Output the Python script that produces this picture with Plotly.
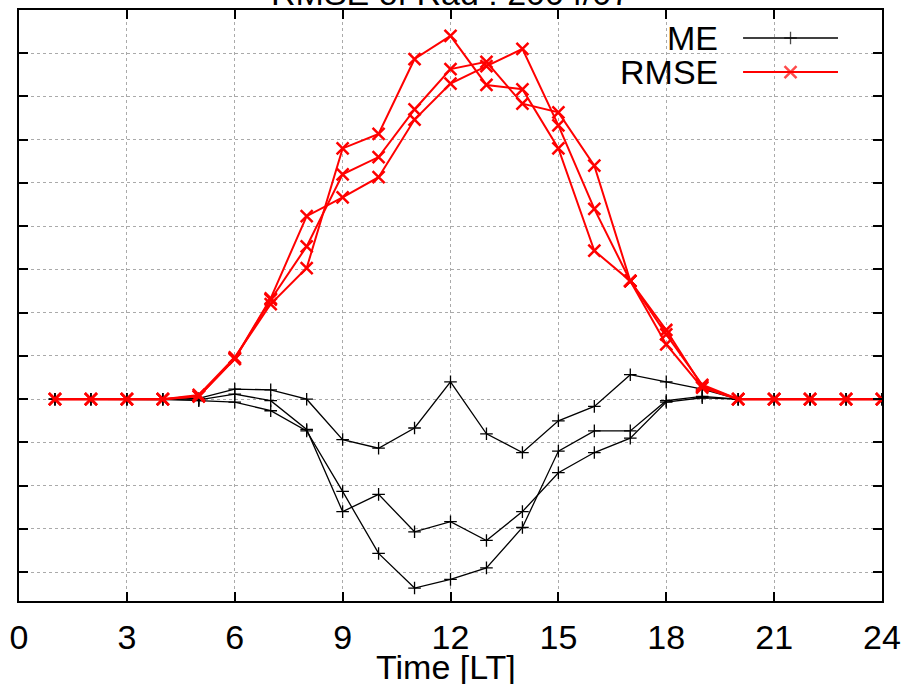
import plotly.graph_objects as go

hours = list(range(1, 25))

rmse_a = [0, 0, 0, 0, 2, 28, 70, 127, 140, 154, 194, 219, 231, 243, 190, 132, 82, 45, 10, 0, 0, 0, 0, 0]
rmse_b = [0, 0, 0, 0, 2, 28, 69, 106, 156, 168, 201, 229, 234, 205, 199, 162, 82, 48, 9, 0, 0, 0, 0, 0]
rmse_c = [0, 0, 0, 0, 3, 29, 66, 91, 174, 184, 236, 252, 218, 215, 174, 103, 82, 38, 8, 0, 0, 0, 0, 0]

me_a = [0, 0, 0, 0, 0.5, 7, 6.5, 0, -28, -34, -20, 12, -24, -37, -15, -5, 17, 12, 7, 0, 0, 0, 0, 0]
me_b = [0, 0, 0, 0, -0.5, 3.5, -1, -21, -78, -66, -92, -85, -98, -78, -51, -37, -27, -2, 1, 0, 0, 0, 0, 0]
me_c = [0, 0, 0, 0, -1, -2, -8, -22, -64, -107, -131, -125, -117, -89, -36, -22, -22, -1, 2, 0, 0, 0, 0, 0]

x_ticks = [0, 3, 6, 9, 12, 15, 18, 21, 24]

FONT = "Liberation Sans, Arial, sans-serif"
RED = "#ff0000"
BLACK = "#000000"

fig = go.Figure()

for me in [me_a, me_b, me_c]:
    fig.add_trace(go.Scatter(
        x=hours, y=me, mode="lines+markers",
        line=dict(color=BLACK, width=1.3),
        marker=dict(symbol="cross-thin", size=9, line=dict(color=BLACK, width=1.3)),
        showlegend=False,
    ))

for rmse in [rmse_a, rmse_b, rmse_c]:
    fig.add_trace(go.Scatter(
        x=hours, y=rmse, mode="lines+markers",
        line=dict(color=RED, width=2),
        marker=dict(symbol="x-thin", size=12, line=dict(color=RED, width=2.5)),
        showlegend=False,
    ))

# key samples (gnuplot style: text left, sample right)
key_rows = [("ME", 0.9526, BLACK, "cross-thin", 1.3, 9),
            ("RMSE", 0.895, RED, "x-thin", 2.5, 12)]
for name, ky, col, sym, lw, ms in key_rows:
    fig.add_trace(go.Scatter(
        x=[0.839, 0.894, 0.949], y=[ky, ky, ky], mode="lines+markers",
        xaxis="x2", yaxis="y2",
        line=dict(color=col, width=1.3 if col == BLACK else 2),
        marker=dict(symbol=sym, size=[0, ms, 0], line=dict(color=col, width=lw)),
        showlegend=False, hoverinfo="skip",
    ))
    fig.add_annotation(x=0.8123, y=ky, xref="paper", yref="paper",
                       text=name, showarrow=False, xanchor="right", yanchor="middle",
                       font=dict(family=FONT, size=34, color=BLACK))

fig.add_shape(type="rect", xref="paper", yref="paper",
              x0=0.714, x1=0.972, y0=0.861, y1=0.995,
              fillcolor="white", line=dict(width=0), layer="between")

# title sits mostly above the visible area, as in the cropped original
fig.add_annotation(x=0.5, y=0.994, xref="paper", yref="paper",
                   text="RMSE of Rad : 2004/07", showarrow=False,
                   xanchor="center", yanchor="bottom",
                   font=dict(family=FONT, size=34, color=BLACK))

fig.add_annotation(x=0.495, y=-0.112, xref="paper", yref="paper",
                   text="Time [LT]", showarrow=False,
                   xanchor="center", yanchor="middle",
                   font=dict(family=FONT, size=34, color=BLACK))

fig.update_layout(
    width=908, height=684,
    margin=dict(l=19, r=26, t=10, b=83, autoexpand=False),
    paper_bgcolor="white", plot_bgcolor="white",
    font=dict(family=FONT, size=34, color=BLACK),
    xaxis=dict(
        range=[0, 24], tickvals=x_ticks, ticktext=[str(t) for t in x_ticks],
        ticks="inside", ticklen=9, tickwidth=1.5, tickcolor=BLACK,
        ticklabelstandoff=5,
        showline=True, linecolor=BLACK, linewidth=2, mirror="ticks",
        showgrid=True, gridcolor="#aaaaaa", griddash="dot", gridwidth=1,
        zeroline=False,
    ),
    yaxis=dict(
        range=[-140, 270], tick0=0, dtick=30,
        ticks="inside", ticklen=9, tickwidth=1.5, tickcolor=BLACK,
        showline=True, linecolor=BLACK, linewidth=2, mirror="ticks",
        showgrid=True, gridcolor="#aaaaaa", griddash="dot", gridwidth=1,
        zeroline=False, showticklabels=False,
    ),
    xaxis2=dict(overlaying="x", range=[0, 1], visible=False),
    yaxis2=dict(overlaying="y", range=[0, 1], visible=False),
)

# drop the default body margin so the figure fills the window from (0, 0)
fig.write_html("out.html", config={"displayModeBar": False},
               post_script="document.body.style.margin = '0px';")
